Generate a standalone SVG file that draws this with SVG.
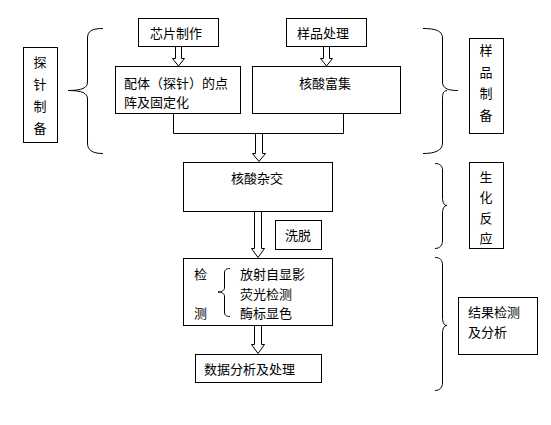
<svg xmlns="http://www.w3.org/2000/svg" width="551" height="425" viewBox="0 0 551 425">
<style>
.b{fill:#fff;stroke:#000;stroke-width:1}
.l{fill:none;stroke:#000;stroke-width:1}
.a{fill:#fff;stroke:#000;stroke-width:1;stroke-linejoin:miter}
text{font-family:"Noto Sans CJK SC","Liberation Sans",sans-serif;font-size:13px;fill:#000}
.c{text-anchor:middle}
</style>
<rect width="551" height="425" fill="#fff"/>
<g id="connectors">
<path class="l" d="M173.5,113 V133.5 H343.5 V113"/>
<path class="a" d="M175.5,46.5 H181.5 V58.5 H184.5 L178.5,66 L172.5,58.5 H175.5 Z"/>
<path class="a" d="M323.5,46.5 H329.5 V58.5 H332.5 L326.5,66 L320.5,58.5 H323.5 Z"/>
<path class="a" d="M255.5,133.5 H262.5 V153.5 H265.5 L259,161.5 L252.5,153.5 H255.5 Z"/>
<path class="a" d="M254.5,211.5 H261.5 V248.5 H264.5 L258,257.5 L251.5,248.5 H254.5 Z"/>
<path class="a" d="M254.5,325.5 H261.5 V344.5 H264.5 L258,353.5 L251.5,344.5 H254.5 Z"/>
<path class="l" d="M103,28.5 C92,28.5 87.5,31 87.5,38 V82 C87.5,88 82,90.5 68,90.5 C82,90.5 87.5,93 87.5,99 V143 C87.5,150 92,153.5 103,153.5"/>
<path class="l" d="M423,28.5 C436,28.5 442.5,31 442.5,38 V82 C442.5,88 447,90.5 458,90.5 M447,90.5 C443,91 442.5,94 442.5,99 V143 C442.5,150 436,153.5 423,153.5"/>
<path class="l" d="M435,163.5 C440,163.5 442.5,166 442.5,170 V198 C442.5,202 444,205.5 447,205.5 C444,205.5 442.5,209 442.5,213 V241 C442.5,245 440,248.5 435,248.5"/>
<path class="l" d="M435,257.5 C440,257.5 442.5,260 442.5,265 V318 C442.5,322 444,325.5 447,325.5 C444,325.5 442.5,329 442.5,333 V383 C442.5,387 440,390.5 435,390.5"/>
</g>
<g id="n-chip"><rect class="b" x="138.5" y="18.5" width="80" height="28"/><text class="c" x="176" y="38">芯片制作</text></g>
<g id="n-sample"><rect class="b" x="286.5" y="18.5" width="80" height="28"/><text class="c" x="323" y="38">样品处理</text></g>
<g id="n-probe"><rect class="b" x="115.5" y="66.5" width="125" height="47"/><text x="124" y="88">配体（探针）的点</text><text x="124" y="107">阵及固定化</text></g>
<g id="n-enrich"><rect class="b" x="252.5" y="66.5" width="148" height="47"/><text class="c" x="325" y="88">核酸富集</text></g>
<g id="n-probe-label"><rect class="b" x="23.5" y="47.5" width="34" height="95"/><text class="c" x="40" y="67">探</text><text class="c" x="40" y="89">针</text><text class="c" x="40" y="111">制</text><text class="c" x="40" y="133">备</text></g>
<g id="n-sample-label"><rect class="b" x="469.5" y="38.5" width="34" height="95"/><text class="c" x="486" y="55">样</text><text class="c" x="486" y="77">品</text><text class="c" x="486" y="98">制</text><text class="c" x="486" y="120">备</text></g>
<g id="n-hyb"><rect class="b" x="183.5" y="162.5" width="149" height="49"/><text class="c" x="257" y="183">核酸杂交</text></g>
<g id="n-wash"><rect class="b" x="275.5" y="220.5" width="46" height="29"/><text class="c" x="298" y="240">洗脱</text></g>
<g id="n-bio-label"><rect class="b" x="469.5" y="162.5" width="34" height="86"/><text class="c" x="486" y="182">生</text><text class="c" x="486" y="202">化</text><text class="c" x="486" y="223">反</text><text class="c" x="486" y="243">应</text></g>
<g id="n-detect"><rect class="b" x="183.5" y="258.5" width="149" height="67"/>
<text x="194" y="279">检</text><text x="194" y="318">测</text>
<path class="l" d="M230,268.5 C226,268.5 224.5,270 224.5,273 V288 C224.5,290 222,292 218,292 C222,292 224.5,294 224.5,296 V312 C224.5,315 226,316.5 230,316.5"/>
<text x="240" y="279">放射自显影</text><text x="240" y="299">荧光检测</text><text x="240" y="318">酶标显色</text></g>
<g id="n-data"><rect class="b" x="195.5" y="354.5" width="126" height="28"/><text x="204" y="374">数据分析及处理</text></g>
<g id="n-result-label"><rect class="b" x="458.5" y="297.5" width="79" height="57"/><text x="468" y="317">结果检测</text><text x="468" y="337">及分析</text></g>
</svg>
